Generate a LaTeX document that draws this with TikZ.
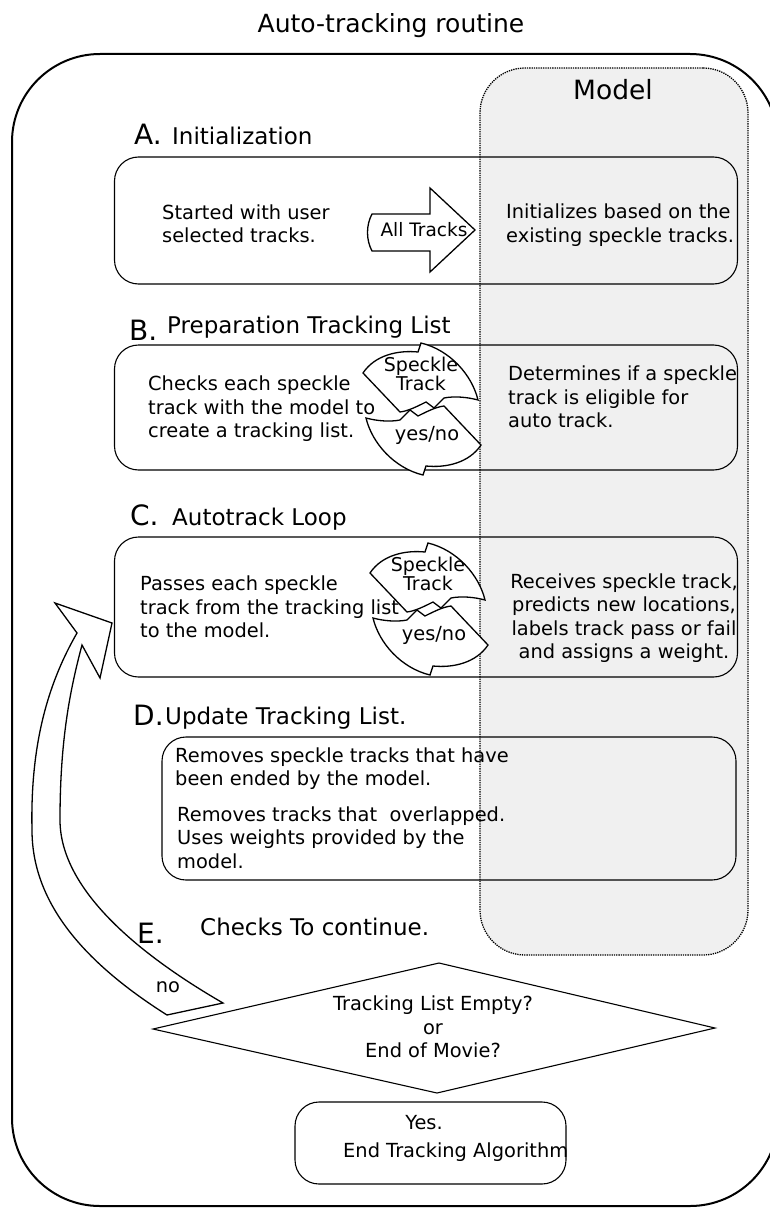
\documentclass[tikz,border=0pt]{standalone}
\usepackage{fontspec}
\setmainfont{DejaVu Sans}
\definecolor{modelgray}{HTML}{F0F0F0}
\tikzset{
  stagebox/.style={draw, line width=1.1pt, rounded corners=24pt, inner sep=0pt},
  bodytext/.style={font=\fontsize{19.4}{23.5}\selectfont, inner sep=0pt, align=left},
  letterlbl/.style={font=\fontsize{28}{30}\selectfont, anchor=base west, inner sep=0pt},
  headtext/.style={font=\fontsize{23}{26}\selectfont, anchor=base west, inner sep=0pt},
  bigarrow/.style={draw, line width=1.3pt, fill=white, line join=miter},
  cyc/.pic={
    \draw[bigarrow] (-22,3) -- (-59,-36) .. controls (-47,-54) and (-24,-59) .. (-4,-57)
      -- (-1,-66) .. controls (28,-59) and (50,-34) .. (56,-9)
      .. controls (45,-12) and (32,-13) .. (22,-11) -- (12,-1) -- (4,-7)
      .. controls (-6,-2) and (-14,2) .. cycle;
    \draw[bigarrow, rotate=180] (-22,3) -- (-59,-36) .. controls (-47,-54) and (-24,-59) .. (-4,-57)
      -- (-1,-66) .. controls (28,-59) and (50,-34) .. (56,-9)
      .. controls (45,-12) and (32,-13) .. (22,-11) -- (12,-1) -- (4,-7)
      .. controls (-6,-2) and (-14,2) .. cycle;
    \node[bodytext, align=center, font={\fontsize{19}{18.5}\selectfont\lineskiplimit=-30pt}] (-sp) at (-1,-35) {Speckle\\Track};
    \node[bodytext] (-yn) at (5,26) {yes/no};
  }
}
\begin{document}
\begin{tikzpicture}[x=1pt,y=-1pt]
\useasboundingbox (0,0) rectangle (770,1209);
% title
\node[font=\fontsize{25}{28}\selectfont, inner sep=0pt] (title) at (391,26) {Auto-tracking routine};
% outer frame
\draw[line width=2pt, rounded corners=88pt] (12,54) rectangle (778,1206);
% model region
\node[draw, densely dotted, line width=1.3pt, fill=modelgray, rounded corners=45pt,
      minimum width=268pt, minimum height=887pt, inner sep=0pt] (model) at (614,511.5) {};
\node[font=\fontsize{26.5}{28}\selectfont, inner sep=0pt] (modellbl) at (613,90) {Model};

% A
\node[letterlbl] (la) at (134,145) {A.};
\node[headtext] (ha) at (172,145) {Initialization};
\node[stagebox, minimum width=623pt, minimum height=127pt] (boxa) at (426,220.5) {};
\node[bodytext, anchor=west] (ta1) at (162,224) {Started with user\\selected tracks.};
\node[bodytext, anchor=west] (ta2) at (506,225) {Initializes based on the\\existing speckle tracks.};
\draw[bigarrow] (372,214) -- (430,214) -- (430,188) -- (475,230) -- (430,272) -- (430,251) -- (372,251)
   .. controls (366,240) and (366,225) .. cycle;
\node[font=\fontsize{18.5}{20}\selectfont, inner sep=0pt] (alltr) at (424,230) {All Tracks};

% B
\node[letterlbl] (lb) at (129,340) {B.};
\node[headtext] (hb) at (167,333) {Preparation Tracking List};
\node[stagebox, minimum width=623pt, minimum height=125pt] (boxb) at (426,407.5) {};
\node[bodytext, anchor=west] (tb1) at (148,409) {Checks each speckle\\track with the model to\\create a tracking list.};
\node[bodytext, anchor=west] (tb2) at (508,397) {Determines if a speckle\\track is eligible for\\auto track.};
\pic (cb) at (422,409) {cyc};

% C
\node[letterlbl] (lc) at (130,525) {C.};
\node[headtext] (hc) at (172,525) {Autotrack Loop};
\node[stagebox, minimum width=623pt, minimum height=140pt] (boxc) at (426,607) {};
\node[bodytext, anchor=west] (tc1) at (140,607) {Passes each speckle\\track from the tracking list\\to the model.};
\pic (cc) at (429,609) {cyc};
\node[bodytext, align=center] (tc2) at (624,618) {Receives speckle track,\\predicts new locations,\\labels track pass or fail\\and assigns a weight.};

% D
\node[letterlbl] (ld) at (133,725) {D.};
\node[headtext] (hd) at (165,724) {Update Tracking List.};
\node[stagebox, minimum width=574pt, minimum height=143pt] (boxd) at (449,808.5) {};
\node[bodytext, anchor=west] (td1) at (175,768.5) {Removes speckle tracks that have\\been ended by the model.};
\node[bodytext, anchor=west] (td2) at (177,837.5) {Removes tracks that\ \ overlapped.\\Uses weights provided by the\\model.};

% E
\node[letterlbl] (le) at (137,943) {E.};
\node[headtext] (he) at (200,935) {Checks To continue.};
\coordinate (dl) at (153,1029);
\coordinate (dt) at (439,963);
\coordinate (dr) at (715,1028);
\coordinate (db) at (437,1093);
\draw[line width=1.1pt] (dl) -- (dt) -- (dr) -- (db) -- cycle;
\node[bodytext, align=center] (dtext) at (433,1027) {Tracking List Empty?\\or\\End of Movie?};

% no arrow
\draw[bigarrow] (77,633) -- (55,603) -- (112,623) -- (100,678) -- (82,645)
   .. controls (70,690) and (60,740) .. (60,820)
   .. controls (60,890) and (140,955) .. (223,1003)
   -- (167,1015)
   .. controls (80,960) and (32,900) .. (32,830)
   .. controls (30,740) and (50,680) .. cycle;
\node[bodytext] (no) at (168,987) {no};

% end
\node[stagebox, minimum width=271pt, minimum height=82pt] (endbox) at (430.5,1143) {};
\node[bodytext] (yes) at (424,1123) {Yes.};
\node[bodytext, anchor=west] (endt) at (343,1152) {End Tracking Algorithm};
\end{tikzpicture}
\end{document}
